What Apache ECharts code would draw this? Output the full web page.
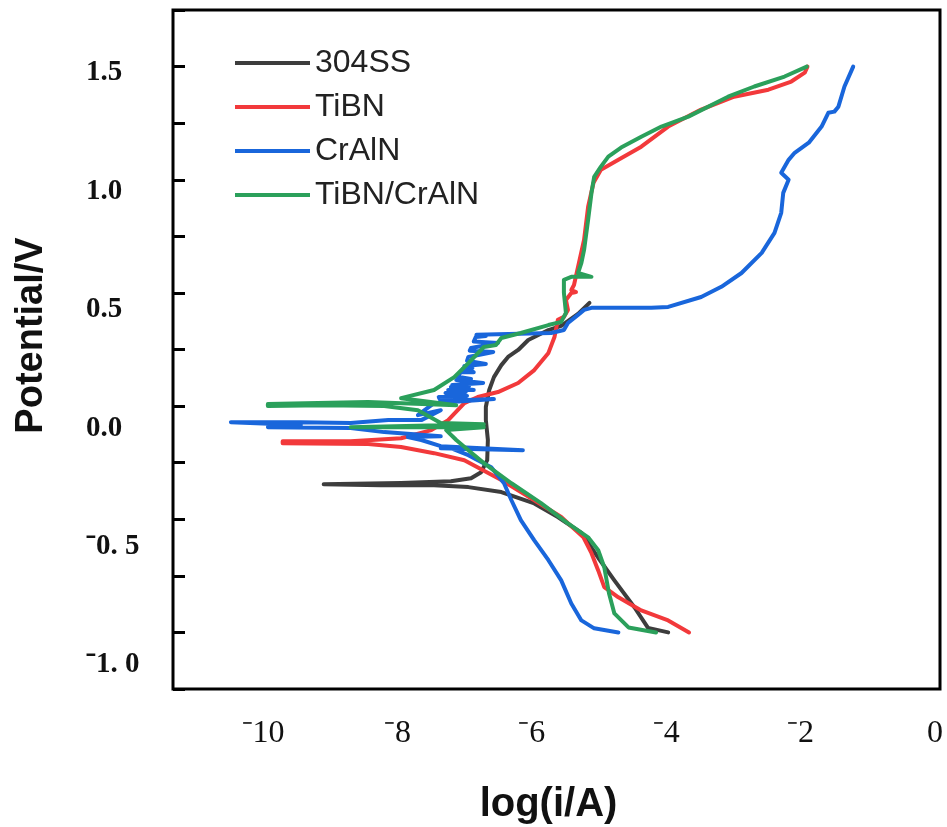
<!DOCTYPE html>
<html>
<head>
<meta charset="utf-8">
<script src="https://cdn.jsdelivr.net/npm/echarts@6/dist/echarts.min.js"></script>
<style>
  html, body { margin: 0; padding: 0; background: #fff; overflow: hidden; }
  #main { width: 947px; height: 827px; }
</style>
</head>
<body>
<div id="main"></div>
<script>
// [log(i/A), potential/V], cathodic end -> Ecorr -> anodic end
var ss304 = [
  [-3.99, -1.0], [-4.29, -0.98], [-4.49, -0.89], [-4.79, -0.77], [-5.03, -0.67],
  [-5.28, -0.56], [-5.63, -0.49], [-5.98, -0.43], [-6.47, -0.38], [-6.96, -0.358],
  [-7.47, -0.35], [-8.26, -0.35], [-9.11, -0.345],
  [-9.11, -0.34], [-7.96, -0.34], [-7.22, -0.332], [-6.92, -0.319], [-6.77, -0.292],
  [-6.68, -0.239], [-6.67, -0.15], [-6.70, -0.062], [-6.70, -0.004], [-6.65, 0.071],
  [-6.58, 0.128], [-6.47, 0.181], [-6.37, 0.217], [-6.22, 0.248], [-6.07, 0.292],
  [-5.77, 0.336], [-5.58, 0.354], [-5.33, 0.407], [-5.16, 0.456]
];

var tibn = [
  [-3.68, -1.0], [-3.99, -0.947], [-4.39, -0.903], [-4.73, -0.845], [-4.94, -0.80],
  [-5.03, -0.726], [-5.13, -0.65], [-5.25, -0.58], [-5.58, -0.49], [-5.98, -0.416],
  [-6.47, -0.327], [-7.02, -0.239], [-7.47, -0.208], [-7.96, -0.181], [-8.45, -0.168],
  [-9.72, -0.164],
  [-9.72, -0.155], [-8.71, -0.155], [-7.96, -0.142], [-7.51, -0.106], [-7.26, -0.062],
  [-7.02, 0.013], [-6.82, 0.04], [-6.52, 0.062], [-6.22, 0.102], [-5.98, 0.159],
  [-5.77, 0.235], [-5.68, 0.305], [-5.63, 0.381], [-5.54, 0.394], [-5.48, 0.425],
  [-5.51, 0.469], [-5.43, 0.50], [-5.36, 0.504], [-5.43, 0.513], [-5.39, 0.535],
  [-5.33, 0.615], [-5.24, 0.735], [-5.18, 0.881], [-5.10, 0.987], [-4.99, 1.044],
  [-4.73, 1.088], [-4.39, 1.146], [-3.99, 1.235], [-3.50, 1.31], [-3.01, 1.367],
  [-2.50, 1.398], [-2.16, 1.434], [-1.96, 1.473], [-1.92, 1.5]
];

var craln = [
  [-4.73, -1.0], [-5.09, -0.982], [-5.28, -0.947], [-5.43, -0.872], [-5.58, -0.77],
  [-5.77, -0.681], [-5.98, -0.593], [-6.18, -0.504], [-6.32, -0.416], [-6.43, -0.341],
  [-6.62, -0.27], [-6.82, -0.239], [-6.96, -0.217], [-7.22, -0.186], [-7.37, -0.186],
  [-6.15, -0.195], [-7.37, -0.177], [-7.66, -0.150], [-7.86, -0.137], [-7.37, -0.133],
  [-8.21, -0.115], [-8.71, -0.097], [-9.94, -0.093], [-9.45, -0.084], [-10.49, -0.071],
  [-9.45, -0.071], [-8.71, -0.075], [-8.15, -0.062], [-7.66, -0.062], [-7.37, -0.018],
  [-7.71, -0.04], [-7.47, 0.013], [-6.58, 0.031], [-7.37, 0.022], [-7.40, 0.04],
  [-6.98, 0.045], [-7.30, 0.058], [-7.00, 0.062], [-7.26, 0.071], [-6.88, 0.071],
  [-7.22, 0.084], [-6.95, 0.088], [-7.20, 0.093], [-6.74, 0.102], [-7.14, 0.115],
  [-6.92, 0.12], [-7.12, 0.13], [-7.07, 0.15], [-6.88, 0.15], [-7.04, 0.165],
  [-6.90, 0.168], [-7.02, 0.177], [-6.70, 0.186], [-6.98, 0.2], [-6.96, 0.217],
  [-6.59, 0.239], [-6.94, 0.245], [-6.92, 0.257], [-6.52, 0.279], [-6.88, 0.285],
  [-6.85, 0.305], [-6.70, 0.31], [-6.84, 0.315], [-6.82, 0.323], [-5.73, 0.323],
  [-5.54, 0.336], [-5.48, 0.367], [-5.33, 0.403], [-5.24, 0.425], [-5.13, 0.434],
  [-4.24, 0.434], [-3.99, 0.438], [-3.50, 0.482], [-3.20, 0.527], [-2.90, 0.588],
  [-2.60, 0.677], [-2.41, 0.765], [-2.31, 0.854], [-2.28, 0.942], [-2.20, 1.0],
  [-2.31, 1.031], [-2.20, 1.088], [-2.11, 1.119], [-1.90, 1.164], [-1.71, 1.235],
  [-1.61, 1.296], [-1.52, 1.301], [-1.46, 1.323], [-1.37, 1.412], [-1.24, 1.5]
];

var tibnCraln = [
  [-4.17, -1.0], [-4.58, -0.978], [-4.79, -0.916], [-4.87, -0.827], [-4.94, -0.712],
  [-5.03, -0.637], [-5.18, -0.58], [-5.48, -0.518], [-5.88, -0.429], [-6.32, -0.341],
  [-6.73, -0.252], [-6.96, -0.195], [-7.14, -0.15], [-7.29, -0.106], [-6.73, -0.093],
  [-8.71, -0.093], [-6.73, -0.080], [-7.37, -0.075], [-7.71, -0.018], [-8.21, 0.0],
  [-9.11, 0.004], [-9.94, 0.0],
  [-9.94, 0.009], [-8.45, 0.018], [-7.14, 0.004], [-7.96, 0.035], [-7.47, 0.071],
  [-7.17, 0.128], [-6.96, 0.19], [-6.73, 0.261], [-6.55, 0.27], [-6.47, 0.301],
  [-6.18, 0.323], [-5.77, 0.358], [-5.58, 0.372], [-5.51, 0.412], [-5.54, 0.5],
  [-5.54, 0.558], [-5.43, 0.571], [-5.13, 0.571], [-5.33, 0.588], [-5.28, 0.633],
  [-5.24, 0.69], [-5.18, 0.823], [-5.13, 0.942], [-5.09, 1.013], [-4.99, 1.058],
  [-4.88, 1.102], [-4.69, 1.142], [-4.39, 1.19], [-4.09, 1.235], [-3.69, 1.279],
  [-3.10, 1.367], [-2.71, 1.412], [-2.26, 1.456], [-1.93, 1.5]
];

var seriesNames = ['304SS', 'TiBN', 'CrAlN', 'TiBN/CrAlN'];
var seriesColors = ['#3d3d3d', '#f2393b', '#1966db', '#2ba05b'];
var seriesData = [ss304, tibn, craln, tibnCraln];

var xTicks = [-10, 0, 2];      // min, max, step of the bottom labels
var yTicks = [-1.0, 1.5, 0.5]; // min, max, step of the left labels

var myChart = echarts.init(document.getElementById('main'));

function yLabel(v) {
  if (v < 0) return '\u207B' + Math.abs(v).toFixed(1).replace('.', '. ');
  return v.toFixed(1);
}
function xLabel(v) {
  return v < 0 ? '\u207B' + (-v) : String(v);
}

var option = {
  backgroundColor: '#fff',
  animation: false,
  legend: {
    orient: 'vertical',
    left: 230,
    top: 41,
    icon: 'rect',
    itemWidth: 75,
    itemHeight: 4,
    itemGap: 10,
    textStyle: {
      fontFamily: 'Liberation Sans, Arial, sans-serif',
      fontSize: 32,
      lineHeight: 34,
      color: '#222'
    },
    data: seriesNames
  },
  grid: [
    // plot box
    { left: 173, right: 7, top: 10, bottom: 138, outerBoundsMode: 'none',
      show: true, borderColor: '#000', borderWidth: 3 },
    // holds only the tick labels
    { left: 263, right: 12, top: 73, bottom: 162, outerBoundsMode: 'none' }
  ],
  xAxis: [
    {
      gridIndex: 0,
      position: 'bottom',
      type: 'value',
      min: -11.35,
      max: 0.05,
      name: 'log(i/A)',
      nameLocation: 'middle',
      nameGap: 96,
      nameTextStyle: {
        fontFamily: 'Liberation Sans, Arial, sans-serif',
        fontSize: 40,
        fontWeight: 'bold',
        color: '#111',
        padding: [0, 16, 0, 0]
      },
      axisLine: { show: false, onZero: false },
      axisTick: { show: false },
      axisLabel: { show: false },
      splitLine: { show: false }
    },
    {
      gridIndex: 1,
      position: 'bottom',
      type: 'value',
      min: xTicks[0],
      max: xTicks[1],
      interval: xTicks[2],
      axisLine: { show: false, onZero: false },
      axisTick: { show: false },
      splitLine: { show: false },
      axisLabel: {
        margin: 53,
        formatter: xLabel,
        fontFamily: 'Liberation Serif, Times New Roman, serif',
        fontSize: 32,
        color: '#111'
      }
    }
  ],
  yAxis: [
    {
      gridIndex: 0,
      position: 'left',
      type: 'value',
      min: -1.25,
      max: 1.75,
      interval: 0.25,
      name: 'Potential/V',
      nameLocation: 'middle',
      nameRotate: 90,
      nameGap: 122,
      nameTextStyle: {
        fontFamily: 'Liberation Sans, Arial, sans-serif',
        fontSize: 38,
        fontWeight: 'bold',
        color: '#111',
        padding: [0, 0, 0, 28]
      },
      axisLine: { show: false, onZero: false },
      axisTick: { show: true, inside: true, length: 12, lineStyle: { color: '#000', width: 3 } },
      axisLabel: { show: false },
      splitLine: { show: false }
    },
    {
      gridIndex: 1,
      position: 'left',
      type: 'value',
      min: yTicks[0],
      max: yTicks[1],
      interval: yTicks[2],
      axisLine: { show: false, onZero: false },
      axisTick: { show: false },
      splitLine: { show: false },
      axisLabel: {
        margin: 177,
        align: 'left',
        formatter: yLabel,
        fontFamily: 'Liberation Serif, Times New Roman, serif',
        fontSize: 29,
        fontWeight: 'bold',
        color: '#111'
      }
    }
  ],
  series: seriesNames.map(function (name, i) {
    return {
      name: name,
      type: 'line',
      xAxisIndex: 0,
      yAxisIndex: 0,
      data: seriesData[i],
      showSymbol: false,
      symbol: 'none',
      color: seriesColors[i],
      lineStyle: { width: 4, color: seriesColors[i], join: 'round', cap: 'round' },
      z: 2 + i
    };
  })
};

myChart.setOption(option);
</script>
</body>
</html>
